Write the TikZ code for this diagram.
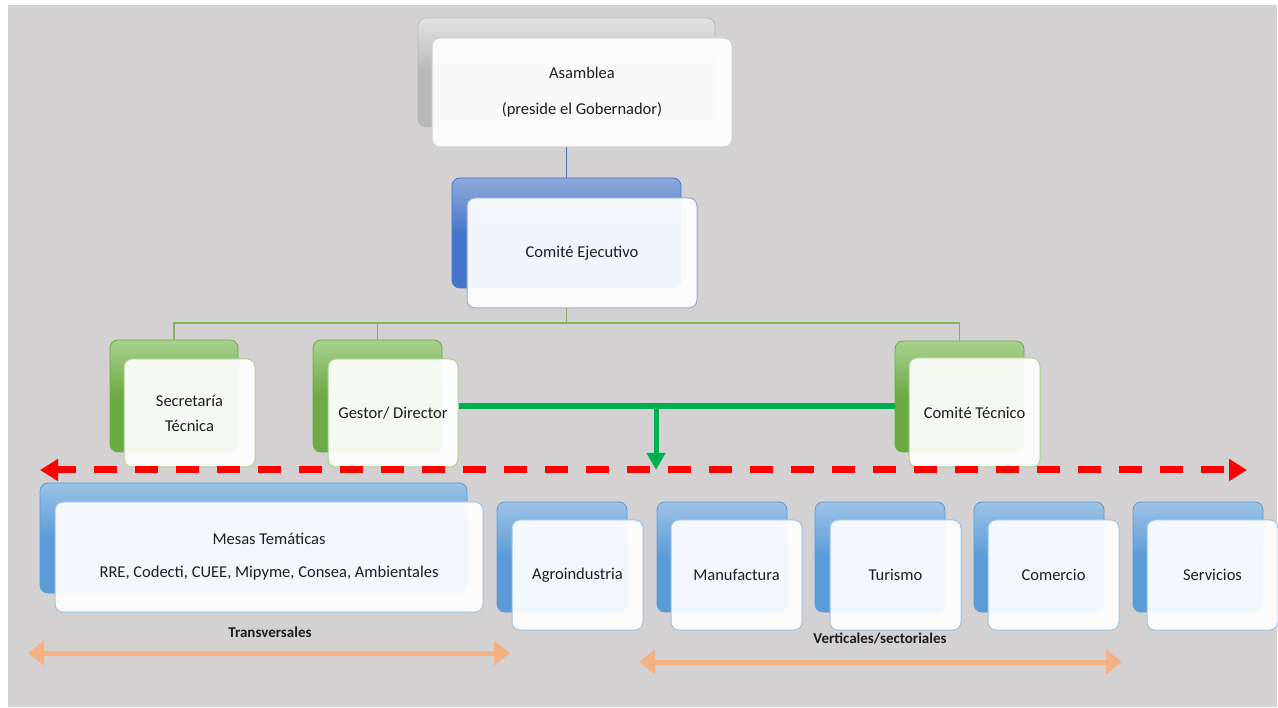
\documentclass[tikz,border=0pt]{standalone}
\usepackage{fontspec}
\setmainfont{Carlito}
\usetikzlibrary{arrows.meta}
\definecolor{bgc}{HTML}{D3D1D2}
\definecolor{greyM}{HTML}{B8B8B8}\definecolor{greyL}{HTML}{E2E2E2}\definecolor{greyB}{HTML}{D0D0D0}
\definecolor{ceM}{HTML}{4676CC}\definecolor{ceL}{HTML}{8EAADB}\definecolor{ceB}{HTML}{8EAADB}
\definecolor{grM}{HTML}{6BAA45}\definecolor{grL}{HTML}{A9D18E}\definecolor{grB}{HTML}{A9D18E}
\definecolor{blM}{HTML}{5A9BD8}\definecolor{blL}{HTML}{9DC3E6}\definecolor{blB}{HTML}{9DC3E6}
\definecolor{txt}{HTML}{1E1E1E}
\definecolor{grnthick}{HTML}{00B050}
\definecolor{grnthin}{HTML}{7DB55A}
\definecolor{lineb}{HTML}{4472C4}
\definecolor{orng}{HTML}{F4B183}
\tikzset{
  backbox/.style 2 args={rectangle, rounded corners=8pt, draw=#1, line width=0.8pt,
     top color=#2, bottom color=#1, middle color=#1, inner sep=0pt},
  frontbox/.style={rectangle, rounded corners=8pt, draw=#1, line width=1pt,
     fill=white, fill opacity=0.92, text opacity=1, text=txt, inner sep=0pt, align=center,
     font=\fontsize{16.5}{25}\selectfont},
  lbl/.style={text=txt, font=\bfseries\fontsize{15}{18}\selectfont, inner sep=0pt},
}
\begin{document}
\begin{tikzpicture}[x=1pt,y=-1pt]
\useasboundingbox (0,0) rectangle (1278,708);
\fill[white] (0,0) rectangle (1278,708);
\fill[bgc] (8,5) rectangle (1277,707);

% Asamblea
\node[backbox={greyM}{greyL}, minimum width=297pt, minimum height=109pt] (asB) at (566.5,72.5) {};
\node[frontbox=greyB, minimum width=300pt, minimum height=109pt, font=\fontsize{16.5}{36}\selectfont] (asF) at (582,92.5) {Asamblea\\(preside el Gobernador)};

% Comite Ejecutivo
\node[backbox={ceM}{ceL}, minimum width=229pt, minimum height=110pt] (ceBk) at (566.5,233) {};
\node[frontbox=ceB, minimum width=230pt, minimum height=110pt] (ceF) at (582,253) {Comité Ejecutivo};

% Secretaria, Gestor, Comite Tecnico
\node[backbox={grM}{grL}, minimum width=128pt, minimum height=112pt] (seB) at (174,396) {};
\node[frontbox=grB, minimum width=131pt, minimum height=108pt] (seF) at (189.5,413) {Secretaría\\Técnica};
\node[backbox={grM}{grL}, minimum width=129pt, minimum height=112pt] (geB) at (377.5,396) {};
\node[frontbox=grB, minimum width=130pt, minimum height=108pt] (geF) at (393,413) {Gestor/ Director};
\node[backbox={grM}{grL}, minimum width=129pt, minimum height=111pt] (teB) at (959.5,396.5) {};
\node[frontbox=grB, minimum width=131pt, minimum height=109pt] (teF) at (974.5,412.5) {Comité Técnico};

% Mesas
\node[backbox={blM}{blL}, minimum width=427pt, minimum height=110pt] (meB) at (253.5,538) {};
\node[frontbox=blB, minimum width=428pt, minimum height=110pt, font=\fontsize{16.5}{33}\selectfont] (meF) at (269,557) {Mesas Temáticas\\RRE, Codecti, CUEE, Mipyme, Consea, Ambientales};

% Sector boxes
\foreach \nm/\bx/\fx/\t in {agB/562/577.5/Agroindustria, maB/722/736.5/Manufactura, tuB/880/895.5/Turismo, coB/1039/1053.5/Comercio, svB/1198/1212.5/Servicios}{
  \node[backbox={blM}{blL}, minimum width=130pt, minimum height=110pt] (\nm) at (\bx,557) {};
  \node[frontbox=blB, minimum width=131pt, minimum height=110pt] (\nm F) at (\fx,575) {\t};
}

% connectors
\draw[lineb, line width=1.4pt] (ceBk.north |- asF.south) -- (ceBk.north);
\coordinate (bus) at (566.5,323);
\draw[grnthin, line width=1.6pt] (ceBk.north |- ceF.south) -- (bus);
\draw[grnthin, line width=1.6pt] (seB.north) |- (bus);
\draw[grnthin, line width=1.6pt] (geB.north) |- (bus);
\draw[grnthin, line width=1.6pt] (teB.north) |- (bus);

\coordinate (j) at (656,406);
\coordinate (jt) at (656,470);
\draw[grnthick, line width=6pt] ([yshift=7pt]geF.east) -- ([yshift=-9.5pt]teB.west);
\draw[grnthick, line width=5pt, -{Triangle[length=17pt,width=18pt]}] (j) -- (jt);

% red dashed
\coordinate (rl) at (40,470);
\coordinate (rr) at (1247,470);
\draw[red, line width=7pt, dash pattern=on 23pt off 18pt, dash phase=4pt,
  {Triangle[length=18pt,width=21pt]}-{Triangle[length=18pt,width=21pt]}] (rl) -- (rr);

% orange arrows and labels
\coordinate (o1) at (28,653);
\coordinate (o2) at (510,653);
\coordinate (o3) at (639,662);
\coordinate (o4) at (1122,662);
\draw[orng, line width=5pt, {Triangle[length=16pt,width=24pt]}-{Triangle[length=16pt,width=24pt]}] (o1) -- (o2);
\draw[orng, line width=5pt, {Triangle[length=16pt,width=24pt]}-{Triangle[length=16pt,width=24pt]}] (o3) -- (o4);
\node[lbl] (tr) at (270,632) {Transversales};
\node[lbl] (ve) at (880,639) {Verticales/sectoriales};
\end{tikzpicture}
\end{document}
